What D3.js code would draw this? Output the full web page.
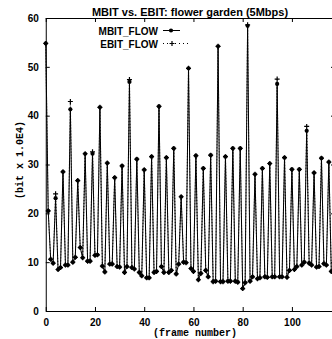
<!DOCTYPE html>
<html>
<head>
<meta charset="utf-8">
<script src="https://cdn.jsdelivr.net/npm/d3@7"></script>
<style>
  body { margin: 0; background: #fff; overflow: hidden; }
  svg { display: block; }
</style>
</head>
<body>
<div id="chart"></div>
<script>
// bit counts per frame (x 1.0E4)
var mbit = [
  54.8, 20.5, 10.6, 9.8, 23.1, 8.5, 8.9, 28.5, 9.4, 9.4,
  41.3, 10.0, 11.0, 26.7, 13.0, 10.9, 32.2, 10.2, 10.2, 32.2,
  11.4, 11.5, 41.7, 9.2, 8.0, 30.3, 9.6, 9.6, 27.3, 9.1,
  9.0, 29.7, 7.9, 9.1, 46.9, 8.9, 8.6, 31.1, 7.9, 7.2,
  28.9, 6.8, 6.8, 31.6, 7.9, 8.1, 41.9, 9.1, 7.9, 31.4,
  7.9, 8.3, 33.3, 7.6, 9.6, 23.4, 10.0, 9.9, 49.7, 8.7,
  8.1, 31.8, 6.4, 7.7, 29.2, 8.3, 7.0, 31.9, 6.0, 6.1,
  54.2, 6.0, 6.0, 31.6, 6.1, 6.1, 33.3, 6.1, 5.9, 33.3,
  4.6, 5.8, 58.4, 6.1, 7.0, 28.0, 6.6, 6.8, 29.2, 7.0,
  6.9, 30.2, 7.0, 7.0, 46.5, 7.0, 7.0, 31.4, 6.9, 8.3,
  29.0, 8.5, 9.1, 29.0, 9.4, 10.0, 36.9, 9.8, 9.4, 28.3,
  9.0, 9.1, 31.3, 9.7, 9.4, 30.5, 8.1
];
var ebit = [
  54.8, 20.5, 10.6, 9.8, 24.0, 8.5, 8.9, 28.5, 9.4, 9.4,
  42.9, 10.0, 11.0, 26.7, 13.0, 10.9, 32.2, 10.2, 10.2, 32.6,
  11.4, 11.5, 41.7, 9.2, 8.0, 30.3, 9.6, 9.6, 27.3, 9.1,
  9.0, 29.7, 7.9, 9.1, 47.4, 8.9, 8.6, 31.1, 7.9, 7.2,
  28.9, 6.8, 6.8, 31.6, 7.9, 8.1, 41.9, 9.1, 7.9, 31.4,
  7.9, 8.3, 33.3, 7.6, 9.6, 23.4, 10.0, 9.9, 49.7, 8.7,
  8.1, 31.8, 6.4, 7.7, 29.2, 8.3, 7.0, 31.9, 6.0, 6.1,
  54.2, 6.0, 6.0, 31.6, 6.1, 6.1, 33.3, 6.1, 5.9, 33.3,
  4.6, 5.8, 58.6, 6.1, 7.0, 28.0, 6.6, 6.8, 29.2, 7.0,
  6.9, 30.2, 7.0, 7.0, 47.5, 7.0, 7.0, 31.4, 6.9, 8.3,
  29.0, 8.5, 9.1, 29.0, 9.4, 10.0, 37.8, 9.8, 9.4, 28.3,
  9.0, 9.1, 31.3, 9.7, 9.4, 30.5, 8.1
];
var frames = mbit.map(function (d, i) { return i; });
var xTicks = [0, 20, 40, 60, 80, 100];
var yTicks = [0, 10, 20, 30, 40, 50, 60];
var seriesNames = ["MBIT_FLOW", "EBIT_FLOW"];

var W = 332, H = 339;
var margin = { top: 18, left: 45.75, bottom: 28 };

var svg = d3.select("#chart").append("svg")
  .attr("width", W).attr("height", H);

var x = d3.scaleLinear().domain([0, 117.5]).range([margin.left, 335]);
var y = d3.scaleLinear().domain([0, 60]).range([H - margin.bottom, margin.top]);

var sans = "'Liberation Sans', Arial, sans-serif";
var mono = "'Liberation Mono', 'Courier New', monospace";

// axes, ticks pointing inward
function styleAxis(g) {
  g.selectAll("path").attr("stroke", "#000").attr("stroke-width", 1);
  g.selectAll("line").attr("stroke", "#000");
  g.selectAll("text").attr("fill", "#000")
    .style("font-family", sans).style("font-size", "10px").style("font-weight", "bold");
}

svg.append("g")
  .attr("transform", "translate(0," + y(0) + ")")
  .call(d3.axisBottom(x).tickValues(xTicks).tickSize(-4).tickSizeOuter(0).tickPadding(8))
  .call(styleAxis);

svg.append("g")
  .attr("transform", "translate(0," + y(60) + ")")
  .call(d3.axisTop(x).tickValues(xTicks).tickFormat("").tickSize(-4).tickSizeOuter(0))
  .call(styleAxis);

svg.append("g")
  .attr("transform", "translate(" + x(0) + ",0)")
  .call(d3.axisLeft(y).tickValues(yTicks).tickSize(-4).tickSizeOuter(0).tickPadding(7))
  .call(styleAxis);

svg.append("g")
  .attr("transform", "translate(" + x(117.5) + ",0)")
  .call(d3.axisRight(y).tickValues(yTicks).tickFormat("").tickSize(-4).tickSizeOuter(0))
  .call(styleAxis);

// lines
var line = d3.line()
  .x(function (d) { return x(d[0]); })
  .y(function (d) { return y(d[1]); });

var mData = frames.map(function (f, i) { return [f, mbit[i]]; });
var eData = frames.map(function (f, i) { return [f, ebit[i]]; });

svg.append("path").datum(eData)
  .attr("d", line).attr("fill", "none")
  .attr("stroke", "#000").attr("stroke-width", 1)
  .attr("stroke-dasharray", "1,2");

svg.append("path").datum(mData)
  .attr("d", line).attr("fill", "none")
  .attr("stroke", "#000").attr("stroke-width", 1);

function pluses(sel, data) {
  sel.selectAll(null).data(data).enter().append("path")
    .attr("transform", function (d) { return "translate(" + x(d[0]) + "," + y(d[1]) + ")"; })
    .attr("d", "M-2.5,0H2.5M0,-2.5V2.5")
    .attr("stroke", "#000").attr("stroke-width", 1.2).attr("fill", "none");
}
function dots(sel, data) {
  sel.selectAll(null).data(data).enter().append("circle")
    .attr("cx", function (d) { return x(d[0]); })
    .attr("cy", function (d) { return y(d[1]); })
    .attr("r", 2.1).attr("fill", "#000");
}

pluses(svg.append("g"), eData);
dots(svg.append("g"), mData);

// title
svg.append("text")
  .attr("x", 190).attr("y", 16)
  .attr("text-anchor", "middle")
  .style("font-family", sans).style("font-size", "11px").style("font-weight", "bold")
  .text("MBIT vs. EBIT: flower garden (5Mbps)");

// legend
var leg = svg.append("g");
leg.append("text").attr("x", 158).attr("y", 35).attr("text-anchor", "end")
  .style("font-family", sans).style("font-size", "10px").style("font-weight", "bold")
  .text(seriesNames[0]);
leg.append("line").attr("x1", 163).attr("x2", 180).attr("y1", 30.5).attr("y2", 30.5)
  .attr("stroke", "#000");
dots(leg, [[x.invert(171), y.invert(30.5)]]);

leg.append("text").attr("x", 158).attr("y", 48).attr("text-anchor", "end")
  .style("font-family", sans).style("font-size", "10px").style("font-weight", "bold")
  .text(seriesNames[1]);
leg.append("line").attr("x1", 163).attr("x2", 188).attr("y1", 43.5).attr("y2", 43.5)
  .attr("stroke", "#000").attr("stroke-dasharray", "1,3");
pluses(leg, [[x.invert(172), y.invert(43.5)]]);

// axis titles
svg.append("text")
  .attr("x", 195).attr("y", 336)
  .attr("text-anchor", "middle")
  .style("font-family", mono).style("font-size", "10px").style("font-weight", "bold")
  .text("(frame number)");

svg.append("text")
  .attr("transform", "translate(23,160) rotate(-90)")
  .attr("text-anchor", "middle")
  .style("font-family", mono).style("font-size", "10px").style("font-weight", "bold")
  .text("(bit x 1.0E4)");
</script>
</body>
</html>
